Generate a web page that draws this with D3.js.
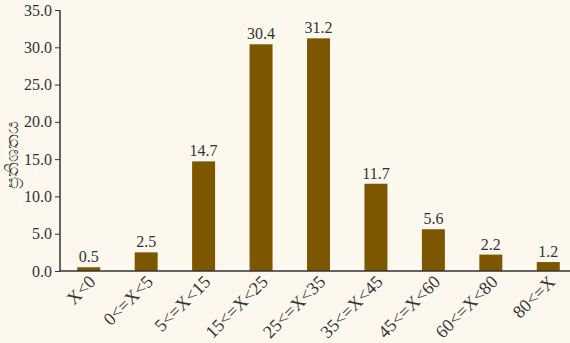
<!DOCTYPE html>
<html><head><meta charset="utf-8">
<script src="https://cdn.jsdelivr.net/npm/d3@7"></script>
<style>
html,body{margin:0;padding:0;background:#fcf8ee;}
svg{display:block;}
text{font-family:"Liberation Serif","DejaVu Serif",serif;fill:#333;}
</style></head>
<body>
<svg id="c" width="570" height="343"></svg>
<script>
const categories = ["X<0","0<=X<5","5<=X<15","15<=X<25","25<=X<35","35<=X<45","45<=X<60","60<=X<80","80<=X"];
const values = [0.5, 2.5, 14.7, 30.4, 31.2, 11.7, 5.6, 2.2, 1.2];
const yTicks = [0, 5, 10, 15, 20, 25, 30, 35];
const yLabel = "ප්‍රතිශතය";

const svg = d3.select("#c");
const mLeft = 60, mRight = 577, mTop = 10, mBottom = 271;
const x = d3.scaleBand().domain(categories).range([mLeft, mRight]).paddingInner(0.6).paddingOuter(0.3);
const y = d3.scaleLinear().domain([0, 35]).range([mBottom, mTop]);

svg.append("rect").attr("width",570).attr("height",343).attr("fill","#fcf8ee");

svg.selectAll("rect.bar").data(values).join("rect").attr("class","bar")
  .attr("x",(d,i)=>x(categories[i])).attr("width",x.bandwidth())
  .attr("y",d=>y(d)).attr("height",d=>mBottom-y(d)).attr("fill","#7d5700");

svg.selectAll("text.val").data(values).join("text").attr("class","val")
  .attr("x",(d,i)=>x(categories[i])+x.bandwidth()/2).attr("y",d=>y(d)-5)
  .attr("text-anchor","middle").style("font-size","16px").text(d=>d.toFixed(1));

const yAxis = svg.append("g").attr("transform",`translate(${mLeft},0)`)
  .call(d3.axisLeft(y).tickValues(yTicks).tickFormat(d3.format(".1f")).tickSize(5).tickPadding(3));
yAxis.select(".domain").attr("stroke","#333").attr("stroke-width",1.5).attr("d",`M0,${mTop}V${mBottom}`);
yAxis.selectAll(".tick line").attr("stroke","#333");
yAxis.selectAll("text").style("font-size","16px").attr("fill","#444");

const xAxis = svg.append("g").attr("transform",`translate(0,${mBottom})`)
  .call(d3.axisBottom(x).tickSize(0).tickPadding(0));
xAxis.select(".domain").attr("stroke","#333").attr("stroke-width",1.5).attr("d",`M${mLeft},0H570`);
xAxis.selectAll(".tick text")
  .style("font-size","18px").attr("fill","#333")
  .attr("text-anchor","end").attr("dy",0).attr("y",0)
  .attr("transform","translate(8,12) rotate(-45)");

svg.append("text").attr("transform","translate(18,155) rotate(-90)")
  .attr("text-anchor","middle").style("font-size","18px").attr("fill","#444").text(yLabel);
</script>
</body></html>
